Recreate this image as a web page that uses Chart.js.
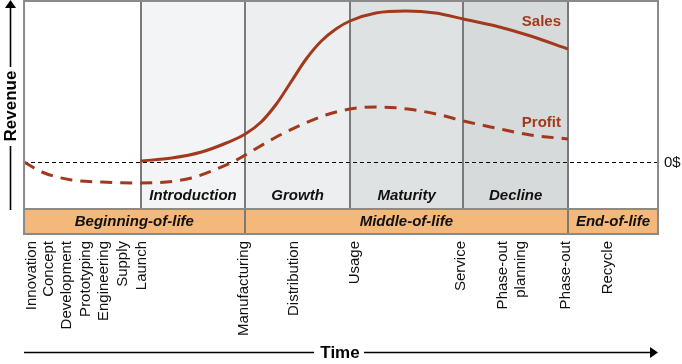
<!DOCTYPE html>
<html>
<head>
<meta charset="utf-8">
<script src="https://cdn.jsdelivr.net/npm/chart.js@4/dist/chart.umd.min.js"></script>
<style>
html,body{margin:0;padding:0;background:#fff;}
#wrap{width:682px;height:364px;}
</style>
</head>
<body>
<div id="wrap"><canvas id="c" width="682" height="364"></canvas></div>
<script>
// ---- data (time in % of lifecycle, revenue in arbitrary units, 0 = break-even) ----
const salesTime   = [18.4, 23.3, 28.0, 31.9, 34.9, 37.4, 39.8, 42.1, 44.5, 46.9, 49.2, 51.4, 55.5, 60.2, 64.9, 69.3, 74.4, 79.9, 85.8];
const salesValue  = [1, 4, 10, 19, 28, 40, 58, 80, 103, 121, 133, 141, 149, 151, 149, 143, 136, 126, 113];
const profitTime  = [0, 2.8, 7.5, 12.3, 18.4, 22.5, 26.4, 30.0, 33.2, 34.9, 39.5, 43.7, 47.6, 51.4, 55.5, 60.5, 65.7, 69.3, 74.4, 79.9, 85.8];
const profitValue = [0, -10, -18, -20, -21, -20, -16, -8, 1, 7, 24, 37, 47, 53, 55, 53, 47, 41, 34, 27, 23];

const stageNames  = ['Introduction', 'Growth', 'Maturity', 'Decline'];
const stageBounds = [18.4, 34.9, 51.4, 69.3, 85.8];
const phaseNames  = ['Beginning-of-life', 'Middle-of-life', 'End-of-life'];
const phaseBounds = [0, 34.8, 85.8, 100];

const activityTime   = [1.3, 3.9, 6.8, 9.7, 12.6, 15.6, 18.6, 34.6, 42.5, 52.2, 68.9, 75.5, 85.5, 92.1];
const activityLabels = ['Innovation', 'Concept', 'Development', 'Prototyping', 'Engineering', 'Supply', 'Launch',
  'Manufacturing', 'Distribution', 'Usage', 'Service', ['Phase-out', 'planning'], 'Phase-out', 'Recycle'];

const timeMin = 0, timeMax = 100, revMin = -47, revMax = 161;

const RED = '#a3391c';
const FONT = '"Liberation Sans", Arial, sans-serif';
const stageFill = ['#f3f4f5', '#eceef0', '#dfe2e3', '#d6dadb'];

const decor = {
  id: 'decor',
  beforeDatasetsDraw(chart) {
    const {ctx, chartArea: a, scales: {x, y}} = chart;
    ctx.save();
    for (let i = 0; i < stageNames.length; i++) {
      const x0 = x.getPixelForValue(stageBounds[i]), x1 = x.getPixelForValue(stageBounds[i + 1]);
      ctx.fillStyle = stageFill[i];
      ctx.fillRect(x0, a.top, x1 - x0, a.bottom - a.top);
    }
    ctx.strokeStyle = '#7a7a7a';
    ctx.lineWidth = 2;
    stageBounds.forEach(v => {
      const px = Math.round(x.getPixelForValue(v));
      ctx.beginPath(); ctx.moveTo(px, a.top); ctx.lineTo(px, a.bottom); ctx.stroke();
    });
    ctx.fillStyle = '#111';
    ctx.font = 'italic bold 15px ' + FONT;
    ctx.textAlign = 'center'; ctx.textBaseline = 'middle';
    for (let i = 0; i < stageNames.length; i++) {
      const cx = (x.getPixelForValue(stageBounds[i]) + x.getPixelForValue(stageBounds[i + 1])) / 2;
      ctx.fillText(stageNames[i], cx, a.bottom - 13);
    }
    const y0 = Math.round(y.getPixelForValue(0)) + 0.5;
    ctx.strokeStyle = '#000'; ctx.lineWidth = 1; ctx.setLineDash([4, 3]);
    ctx.beginPath(); ctx.moveTo(a.left, y0); ctx.lineTo(a.right + 3, y0); ctx.stroke();
    ctx.setLineDash([]);
    ctx.font = '15px ' + FONT; ctx.textAlign = 'left';
    ctx.fillText('0$', a.right + 6, y0);
    ctx.restore();
  },
  afterDraw(chart) {
    const {ctx, chartArea: a, scales: {x, y}} = chart;
    ctx.save();
    const barTop = a.bottom, barBot = a.bottom + 25;
    ctx.fillStyle = '#f4b87a';
    ctx.fillRect(a.left, barTop, a.right - a.left, barBot - barTop);
    ctx.strokeStyle = '#7a7a7a'; ctx.lineWidth = 2;
    for (let i = 1; i < phaseBounds.length - 1; i++) {
      const px = Math.round(x.getPixelForValue(phaseBounds[i]));
      ctx.beginPath(); ctx.moveTo(px, barTop); ctx.lineTo(px, barBot); ctx.stroke();
    }
    ctx.fillStyle = '#111';
    ctx.font = 'italic bold 15px ' + FONT;
    ctx.textAlign = 'center'; ctx.textBaseline = 'middle';
    for (let i = 0; i < phaseNames.length; i++) {
      const cx = (x.getPixelForValue(phaseBounds[i]) + x.getPixelForValue(phaseBounds[i + 1])) / 2;
      ctx.fillText(phaseNames[i], cx, (barTop + barBot) / 2);
    }
    ctx.strokeStyle = '#8a8a8a'; ctx.lineWidth = 2;
    ctx.strokeRect(a.left, a.top, a.right - a.left, barBot - a.top);
    ctx.beginPath(); ctx.moveTo(a.left, barTop); ctx.lineTo(a.right, barTop); ctx.stroke();
    ctx.fillStyle = RED; ctx.font = 'bold 15px ' + FONT; ctx.textAlign = 'right';
    const lx = x.getPixelForValue(stageBounds[4]) - 7;
    ctx.fillText('Sales', lx, a.top + 21);
    ctx.fillText('Profit', lx, a.top + 122);
    ctx.strokeStyle = '#000'; ctx.fillStyle = '#000'; ctx.lineWidth = 1.6;
    const ax = 10.5;
    ctx.beginPath(); ctx.moveTo(ax, 6); ctx.lineTo(ax, 67); ctx.moveTo(ax, 146); ctx.lineTo(ax, a.bottom + 1); ctx.stroke();
    ctx.beginPath(); ctx.moveTo(ax, 0); ctx.lineTo(ax - 5.5, 8); ctx.lineTo(ax + 5.5, 8); ctx.closePath(); ctx.fill();
    ctx.save();
    ctx.translate(ax, 106); ctx.rotate(-Math.PI / 2);
    ctx.font = 'bold 17px ' + FONT; ctx.textAlign = 'center'; ctx.textBaseline = 'middle';
    ctx.fillText('Revenue', 0, 1);
    ctx.restore();
    const ty = 352.5;
    ctx.beginPath(); ctx.moveTo(a.left, ty); ctx.lineTo(314, ty); ctx.moveTo(364, ty); ctx.lineTo(651, ty); ctx.stroke();
    ctx.beginPath(); ctx.moveTo(658, ty); ctx.lineTo(650, ty - 5.5); ctx.lineTo(650, ty + 5.5); ctx.closePath(); ctx.fill();
    ctx.font = 'bold 17px ' + FONT; ctx.textAlign = 'center'; ctx.textBaseline = 'middle';
    ctx.fillText('Time', 340, ty + 1);
    ctx.restore();
  }
};

new Chart(document.getElementById('c'), {
  type: 'line',
  data: {
    datasets: [
      {
        label: 'Sales',
        data: salesTime.map((t, i) => ({x: t, y: salesValue[i]})),
        borderColor: RED, borderWidth: 3, pointRadius: 0,
        cubicInterpolationMode: 'monotone', fill: false
      },
      {
        label: 'Profit',
        data: profitTime.map((t, i) => ({x: t, y: profitValue[i]})),
        borderColor: RED, borderWidth: 3, borderDash: [12, 8], pointRadius: 0,
        cubicInterpolationMode: 'monotone', fill: false
      }
    ]
  },
  options: {
    responsive: false,
    animation: false,
    devicePixelRatio: 1,
    layout: {padding: {left: 22, right: 24, top: 1, bottom: 0}},
    plugins: {legend: {display: false}, tooltip: {enabled: false}},
    scales: {
      x: {
        type: 'linear', min: timeMin, max: timeMax,
        grid: {display: false, drawTicks: false},
        border: {display: false},
        afterFit(scale) { scale.height = 155; },
        afterBuildTicks(scale) { scale.ticks = activityTime.map(v => ({value: v})); },
        ticks: {
          autoSkip: false, minRotation: 90, maxRotation: 90, padding: 32,
          color: '#111', font: {family: FONT, size: 15},
          callback: (v, i) => activityLabels[i]
        }
      },
      y: {type: 'linear', min: revMin, max: revMax, display: false}
    }
  },
  plugins: [decor]
});
</script>
</body>
</html>
